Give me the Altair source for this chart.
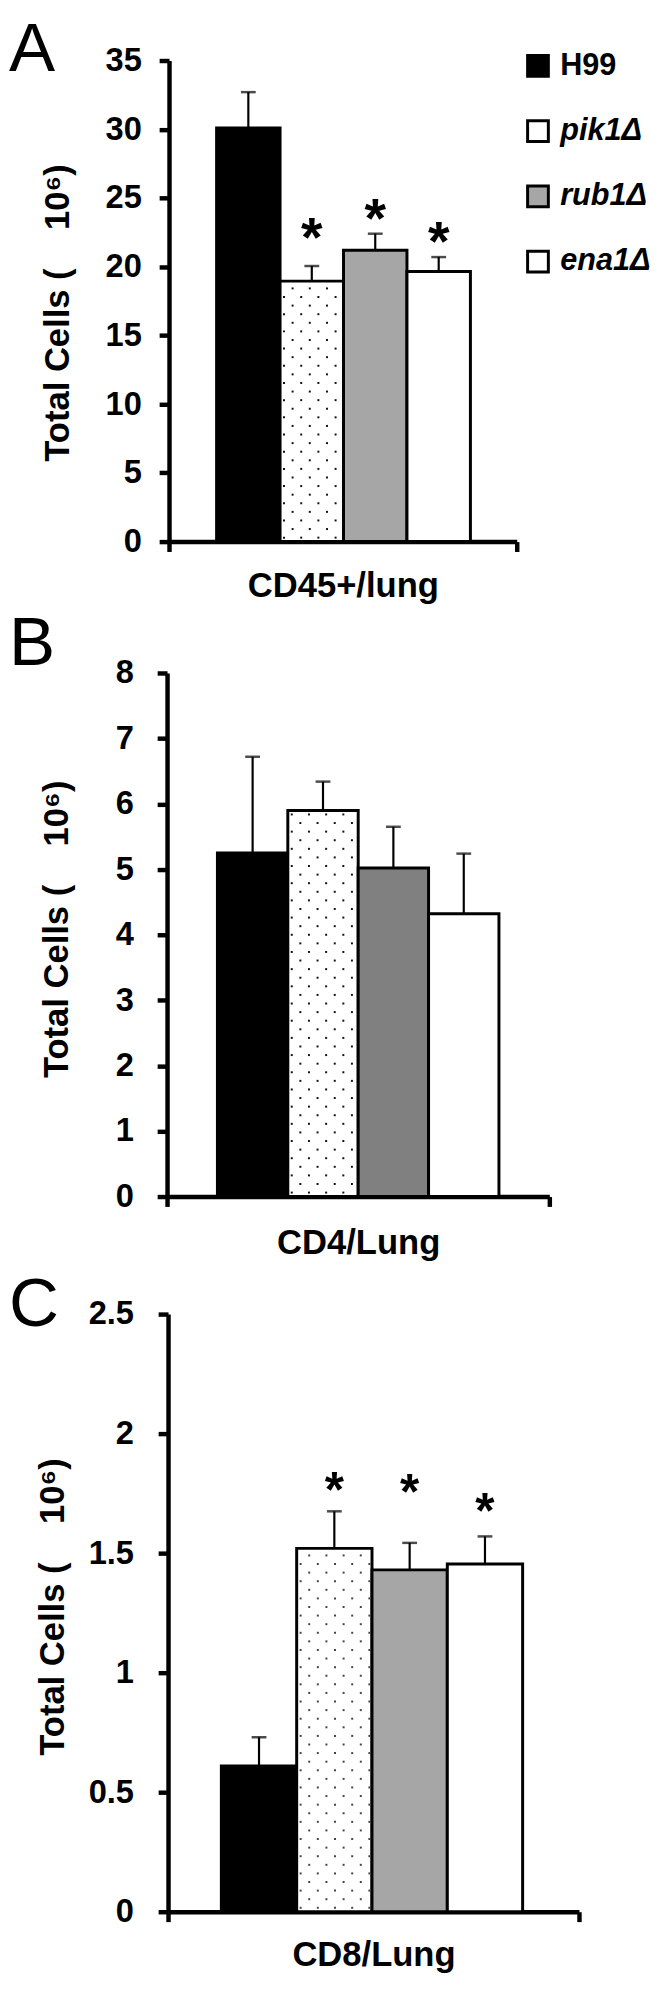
import altair as alt
import pandas as pd

FONT = "Liberation Sans, Arial, Helvetica, sans-serif"

# ---------------- data ----------------
strains = ["H99", "pik1Δ", "rub1Δ", "ena1Δ"]

a_values = [30.1, 18.95, 21.2, 19.65]
a_err_top = [32.7, 20.05, 22.4, 20.7]
a_star = [None, 23.0, 24.4, 22.7]

b_values = [5.25, 5.9, 5.02, 4.32]
b_err_top = [6.72, 6.34, 5.65, 5.24]
b_star = [None, None, None, None]

c_values = [0.61, 1.52, 1.43, 1.455]
c_err_top = [0.73, 1.675, 1.543, 1.57]
c_star = [None, 1.81, 1.80, 1.72]

a_ticks = [0, 5, 10, 15, 20, 25, 30, 35]
b_ticks = [0, 1, 2, 3, 4, 5, 6, 7, 8]
c_ticks = [0, 0.5, 1, 1.5, 2, 2.5]

categories = ["CD45+/lung", "CD4/Lung", "CD8/Lung"]
letters = ["A", "B", "C"]
y_title = "Total Cells (\u00a0\u00a0\u00a0\u00a010\u2076)"

fills_a = ["#000000", "#ffffff", "#a6a6a6", "#ffffff"]
fills_b = ["#000000", "#ffffff", "#808080", "#ffffff"]
fills_c = ["#000000", "#ffffff", "#a6a6a6", "#ffffff"]

# ---------------- layout (pixels) ----------------
M = 8                 # page margin
W, H = 658, 1977      # drawing area


def texture(values, idx, bar_px, unit_px, pitch=8.7):
    """Dot texture for the stippled bar (decoration only)."""
    xs, ys = [], []
    v = values[idx]
    ncol = int((bar_px - 6) // pitch) + 1
    nrow = int((v * unit_px - 6) // pitch) + 1
    for i in range(ncol):
        for j in range(nrow):
            if (i + j) % 2 == 0:
                xs.append(idx + (4 + i * pitch) / bar_px)
                ys.append((4 + j * pitch) / unit_px)
    return pd.DataFrame({"dx": xs, "dy": ys})


def panel(letter, category, values, err_top, stars, ticks, fills,
          xpix, ypix, pad_l, pad_r, label_pad, ytitle_dx, ytitle_cy,
          xtitle_y, letter_base, letter_dx, star_size, dot_color,
          legend=None):
    n = len(strains)
    ymax = ticks[-1]
    x0p, x1p = xpix[0] - M, xpix[1] - M
    ybp, ytp = ypix[0] - M, ypix[1] - M
    df = pd.DataFrame({
        "strain": strains,
        "idx": list(range(n)),
        "value": values,
        "err_top": err_top,
        "star": [s if s is not None else float("nan") for s in stars],
    })
    xs = alt.Scale(domain=[-pad_l, n + pad_r], range=[x0p, x1p],
                   nice=False, zero=False)
    ys = alt.Scale(domain=[0, ymax], range=[ybp, ytp], nice=False, zero=True)
    bar_px = (x1p - x0p) / (n + pad_l + pad_r)
    unit_px = (ybp - ytp) / ymax

    xaxis = alt.Axis(orient="bottom", offset=ybp - H,
                     values=[-pad_l, n + pad_r], labels=False,
                     tickSize=10, tickWidth=4.5, tickColor="black",
                     domainColor="black", domainWidth=4.5, grid=False,
                     title=category, titleFont=FONT, titleFontSize=35,
                     titleFontWeight="bold", titleColor="black",
                     titleX=(x0p + x1p) / 2, titleY=xtitle_y,
                     titleAlign="center", titleBaseline="alphabetic")
    yaxis = alt.Axis(orient="left", offset=-x0p,
                     values=ticks, format="~g", labelFont=FONT,
                     labelFontSize=33, labelFontWeight="bold",
                     labelColor="black", labelPadding=label_pad,
                     tickSize=10, tickWidth=4.5, tickColor="black",
                     domainColor="black", domainWidth=4.5, grid=False,
                     title=y_title, titleFont=FONT, titleFontSize=35,
                     titleFontWeight="bold", titleColor="black",
                     titleX=ytitle_dx, titleY=ytitle_cy - M, titleAngle=270,
                     titleAlign="center", titleBaseline="alphabetic")

    def X(f, ax=None):
        return alt.X(f, scale=xs, axis=ax)

    def Y(f, ax=None):
        return alt.Y(f, scale=ys, axis=ax)

    fill_enc = alt.Fill("strain:N",
                        scale=alt.Scale(domain=strains, range=fills),
                        legend=legend)

    bars = alt.Chart(df).transform_calculate(
        x0="datum.idx", x1="datum.idx + 1", base="0"
    ).mark_rect(stroke="black", strokeWidth=3).encode(
        x=X("x0:Q", xaxis),
        x2="x1:Q",
        y=Y("value:Q", yaxis),
        y2="base:Q",
        fill=fill_enc,
    )

    dots = alt.Chart(texture(values, 1, bar_px, unit_px)).mark_square(
        size=4, color=dot_color, opacity=1
    ).encode(x=X("dx:Q"), y=Y("dy:Q"))

    err = alt.Chart(df).transform_calculate(xc="datum.idx + 0.5").mark_rule(
        color="black", strokeWidth=2.2
    ).encode(x=X("xc:Q"), y=Y("value:Q"), y2="err_top:Q")

    caps = alt.Chart(df).transform_calculate(xc="datum.idx + 0.5").mark_tick(
        color="black", orient="horizontal", size=15, thickness=2.5
    ).encode(x=X("xc:Q"), y=Y("err_top:Q"))

    layers = [bars, dots, err, caps]

    if any(s is not None for s in stars):
        st = alt.Chart(df).transform_filter(
            "isValid(datum.star) && isFinite(datum.star)"
        ).transform_calculate(xc="datum.idx + 0.5").mark_text(
            text="*", font=FONT, fontSize=star_size, fontWeight="bold",
            color="black", baseline="alphabetic", dy=round(0.555 * star_size)
        ).encode(x=X("xc:Q"), y=Y("star:Q"))
        layers.append(st)

    lab = alt.Chart(pd.DataFrame({"t": [letter]})).mark_text(
        align="left", baseline="alphabetic", font=FONT, fontSize=70,
        fontWeight="normal", color="black"
    ).encode(text="t:N", x=alt.value(letter_dx),
             y=alt.value(letter_base - M))
    layers.append(lab)
    return layers


legend_a = alt.Legend(
    orient="none", legendX=521, legendY=31, title=None, padding=0,
    symbolType="square", symbolSize=441, symbolStrokeColor="black",
    symbolStrokeWidth=3, symbolOpacity=1,
    labelFont=FONT, labelFontSize=31, labelFontWeight="bold",
    labelFontStyle=alt.ExprRef(expr="datum.label == 'H99' ? 'normal' : 'italic'"),
    labelColor="black", labelOffset=7, rowPadding=33, labelLimit=200,
)

la = panel("A", categories[0], a_values, a_err_top, a_star, a_ticks, fills_a,
           (171, 523), (536, 49), 0.75, 0.73, 18, -102, 304, 56, 59.5, 1,
           56, "#111111", legend=legend_a)
lb = panel("B", categories[1], b_values, b_err_top, b_star, b_ticks, fills_b,
           (169, 556), (1199, 669), 0.716, 0.716, 24, -101, 928, 58, 661, 1,
           56, "#111111", legend=None)
lc = panel("C", categories[2], c_values, c_err_top, c_star, c_ticks, fills_c,
           (170, 586), (1923, 1318), 0.708, 0.748, 25, -106, 1614, 54, 1330, 1,
           50, "#444444", legend=None)

chart = alt.layer(*(la + lb + lc)).resolve_scale(
    x="independent", y="independent", fill="independent"
).resolve_legend(fill="independent").properties(
    width=W, height=H, padding=0,
    autosize=alt.AutoSizeParams(type="none"),
).configure_view(stroke=None)

chart.save("out.html", embed_options={"renderer": "svg", "actions": False})
